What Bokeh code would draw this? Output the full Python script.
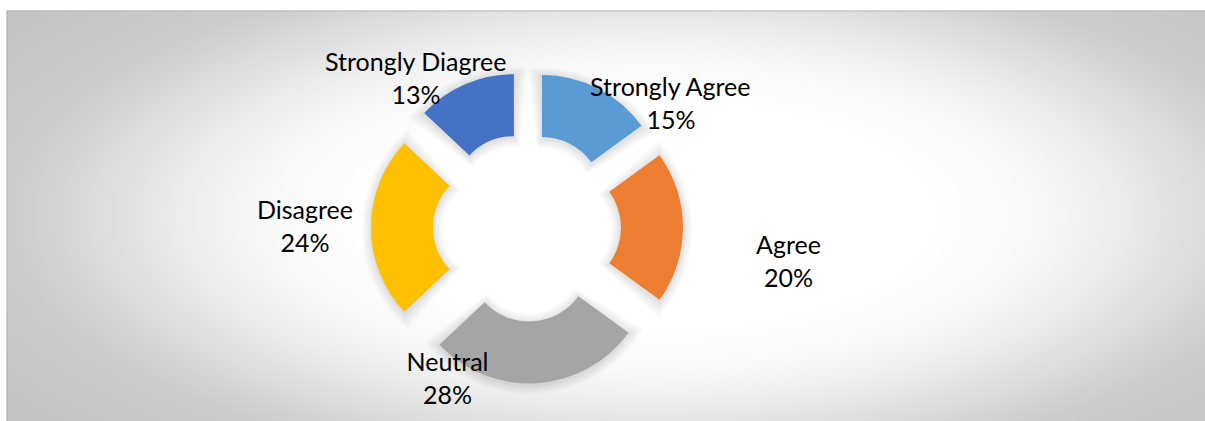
import numpy as np
from bokeh.plotting import figure
from bokeh.models import Range1d
from bokeh.embed import file_html
from bokeh.resources import INLINE
from bokeh.core.properties import value

# ---- data ----
categories = ["Strongly Agree", "Agree", "Neutral", "Disagree", "Strongly Diagree"]
percents = [15, 20, 28, 24, 13]
colors = ["#5B9BD5", "#ED7D31", "#A5A5A5", "#FFC000", "#4472C4"]

# ---- layout (page pixel coordinates of the reference) ----
W, H = 1205, 421
PANEL_L, PANEL_T = 6, 10
CX, CY = 526.5, 227
R_OUT, R_IN, EXPLODE = 123, 61, 33
label_x = [670.5, 788, 447, 304.5, 415.5]
label_y = [85, 243, 360, 208, 60]   # baseline of first label line
LINE = 33
FONT = "Lato"
FONT_SIZE = "25px"


def fx(x):
    return x


def fy(y):
    return H - y


p = figure(width=W, height=H, x_range=Range1d(0, W), y_range=Range1d(0, H),
           x_axis_type=None, y_axis_type=None, toolbar_location=None,
           output_backend="svg", min_border=0, outline_line_color=None,
           background_fill_color="white", border_fill_color="white")

# ---- radial gradient background (panel) ----
pw, ph = W - PANEL_L, H - PANEL_T
gw, gh = pw // 2, ph // 2
xx = PANEL_L + (np.arange(gw) + 0.5) * pw / gw
yy = H - (np.arange(gh) + 0.5) * ph / gh
X, Y = np.meshgrid(xx, yy)
t = np.sqrt(((X - 650) / 640) ** 2 + ((Y - 215) / 260) ** 2)
g = np.interp(t, [0, 0.45, 0.6, 0.7, 1.0, 1.4], [255, 255, 248, 240, 204, 192]).astype(np.uint8)
img = np.empty((gh, gw), dtype=np.uint32)
view = img.view(dtype=np.uint8).reshape((gh, gw, 4))
view[..., 0] = g
view[..., 1] = g
view[..., 2] = g
view[..., 3] = 255
p.image_rgba(image=[img], x=PANEL_L, y=0, dw=pw, dh=ph)
# faint panel border
p.line(x=[PANEL_L + 0.5, PANEL_L + 0.5, W], y=[0, fy(PANEL_T + 0.5), fy(PANEL_T + 0.5)],
       line_color="#b0b0b0", line_width=1, line_alpha=0.8)

# ---- donut segments ----
total = float(sum(percents))
theta = 0.0
starts, ends, cxs, cys = [], [], [], []
for v in percents:
    t1 = theta
    t2 = theta + v / total * 2 * np.pi
    tm = (t1 + t2) / 2
    theta = t2
    cx = CX + EXPLODE * np.sin(tm)
    cy = CY - EXPLODE * np.cos(tm)
    cxs.append(fx(cx))
    cys.append(fy(cy))
    starts.append(np.pi / 2 - t2)
    ends.append(np.pi / 2 - t1)

# soft shadow
rmid = (R_OUT + R_IN) / 2
for k in [9, 7, 5, 3, 1.5]:
    da = k / rmid
    p.annular_wedge(x=cxs, y=[c - 1.5 for c in cys], inner_radius=R_IN - k, outer_radius=R_OUT + k,
                    start_angle=[s - da for s in starts], end_angle=[e + da for e in ends],
                    fill_color="#000000", fill_alpha=0.022, line_color=None)

p.annular_wedge(x=cxs, y=cys, inner_radius=R_IN, outer_radius=R_OUT,
                start_angle=starts, end_angle=ends, fill_color=colors, line_color=None)

# ---- labels ----
line1 = categories
line2 = [f"{v}%" for v in percents]
p.text(x=[fx(x) for x in label_x], y=[fy(y) for y in label_y], text=line1,
       text_align="center", text_baseline="alphabetic", text_font=value(FONT),
       text_font_size=FONT_SIZE, text_color="#000000")
p.text(x=[fx(x) for x in label_x], y=[fy(y + LINE) for y in label_y], text=line2,
       text_align="center", text_baseline="alphabetic", text_font=value(FONT),
       text_font_size=FONT_SIZE, text_color="#000000")

open("out.html", "w").write(file_html(p, INLINE))
